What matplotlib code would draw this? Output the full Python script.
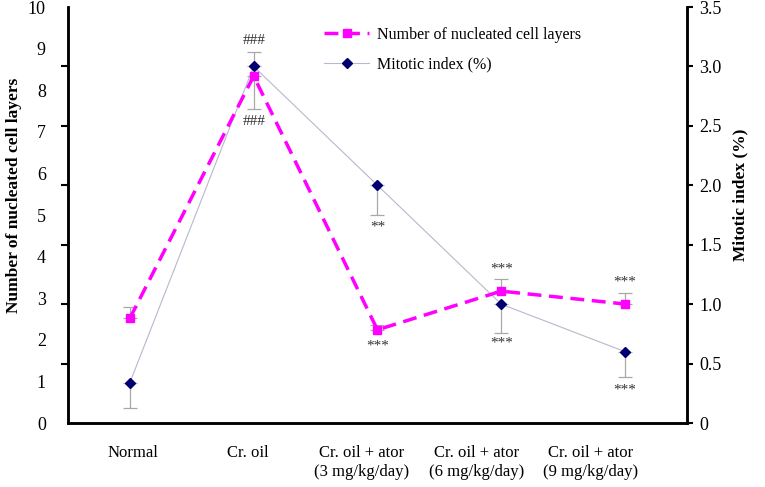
import matplotlib
matplotlib.use("Agg")
import matplotlib.pyplot as plt
import numpy as np

plt.rcParams['font.family'] = ['Liberation Serif', 'DejaVu Serif']

categories = ["Normal", "Cr. oil", "Cr. oil + ator\n(3 mg/kg/day)",
              "Cr. oil + ator\n(6 mg/kg/day)", "Cr. oil + ator\n(9 mg/kg/day)"]
layers = [2.52, 8.34, 2.24, 3.17, 2.86]
layers_err_up = [0.27, 0.0, 0.12, 0.29, 0.27]
layers_err_dn = [0.0, 0.79, 0.0, 0.0, 0.0]
mitotic = [0.34, 3.0, 2.0, 1.0, 0.6]
mitotic_err_up = [0.0, 0.12, 0.0, 0.0, 0.0]
mitotic_err_dn = [0.21, 0.0, 0.25, 0.24, 0.21]
left_ticks = list(range(0, 11))
right_ticks = [0, 0.5, 1.0, 1.5, 2.0, 2.5, 3.0, 3.5]
right_labels = ["0", "0.5", "1.0", "1.5", "2.0", "2.5", "3.0", "3.5"]

fig = plt.figure(figsize=(7.65, 4.87), dpi=100)
ax = fig.add_axes([0.0889, 0.1314, 0.809, 0.8542])
ax2 = ax.twinx()
x = np.arange(len(categories))

ecol = '#A8A8A8'
# mitotic index on right axis
ax2.errorbar(x, mitotic, yerr=[mitotic_err_dn, mitotic_err_up], fmt='none',
             ecolor=ecol, elinewidth=0.9, capsize=5, capthick=0.9, zorder=2)
l2, = ax2.plot(x, mitotic, color='#B8B8CC', lw=0.8, marker='D', ms=5,
               mfc='#000070', mec='#000070', zorder=3, label='Mitotic index (%)')
# layers on left axis
ax.errorbar(x, layers, yerr=[layers_err_dn, layers_err_up], fmt='none',
            ecolor=ecol, elinewidth=0.9, capsize=5, capthick=0.9, zorder=2)
l1, = ax.plot(x, layers, color='#FF00FF', lw=2.5, ls=(0, (4, 2.2)), marker='s', ms=6,
              mfc='#FF00FF', mec='#FF00FF', zorder=4, label='Number of nucleated cell layers')

ax.set_zorder(ax2.get_zorder() + 1)
ax.patch.set_visible(False)

ax.set_xlim(-0.5, 4.5)
ax.set_ylim(0, 10)
ax2.set_ylim(0, 3.5)

ax.set_yticks(left_ticks)
ax.set_yticklabels([str(t) for t in left_ticks])
ax.tick_params(axis='y', which='major', length=0, labelsize=13, pad=16)
ax.set_yticks(np.linspace(0, 10, 8), minor=True)
ax.tick_params(axis='y', which='minor', length=5, width=1.5, direction='out')
# category labels sit slightly left of the category centres, as in the original
ax.set_xticks(0.025 + 0.925 * x)
ax.set_xticklabels(categories, fontsize=12)
ax.tick_params(axis='x', length=0, pad=16)

ax2.set_yticks(right_ticks)
ax2.set_yticklabels(right_labels)
ax2.tick_params(axis='y', length=4, width=1.5, labelsize=13, pad=5)

for a in (ax, ax2):
    for s in a.spines.values():
        s.set_linewidth(1.8)
    a.spines['top'].set_visible(False)

ax.set_ylabel('Number of nucleated cell layers', fontsize=12.5, fontweight='bold')
ax2.set_ylabel('Mitotic index (%)', fontsize=12.5, fontweight='bold')
ax.yaxis.set_label_coords(-0.074, 0.548)
ax2.yaxis.set_label_coords(1.073, 0.548)

tk = dict(ha='center', va='center', fontsize=11, color='#333333')
ax2.text(1, 3.22, '###', **tk)
ax.text(1, 7.25, '###', **tk)
ax2.text(2, 1.65, '**', **tk)
ax.text(2, 1.85, '***', **tk)
ax.text(3, 3.7, '***', **tk)
ax2.text(3, 0.67, '***', **tk)
ax.text(4, 3.38, '***', **tk)
ax2.text(4, 0.28, '***', **tk)

fig.legend(handles=[l1, l2], loc='upper left', bbox_to_anchor=(0.405, 0.975),
           frameon=False, fontsize=11.5, handlelength=2.8, handletextpad=0.5,
           labelspacing=0.85)

fig.savefig('out.png', dpi=100)
